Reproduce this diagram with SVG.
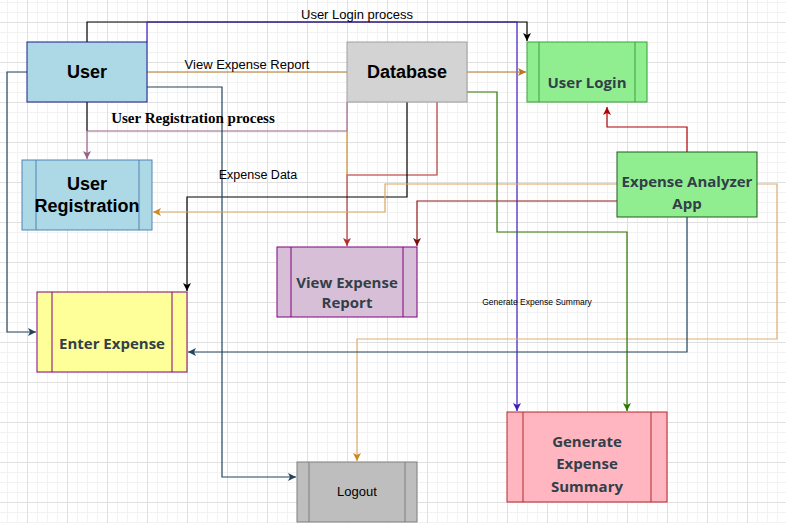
<svg xmlns="http://www.w3.org/2000/svg" width="786" height="523" viewBox="0 0 786 523">
<defs>
<pattern id="grid" x="27" y="22" width="40" height="40" patternUnits="userSpaceOnUse">
<path d="M10.5,0V40M20.5,0V40M30.5,0V40M0,10.5H40M0,20.5H40M0,30.5H40" stroke="#f2f2f2" stroke-width="1" fill="none"/>
<path d="M0.5,0V40M0,0.5H40" stroke="#e0e0e0" stroke-width="1" fill="none"/>
</pattern>
<marker id="a-black" viewBox="0 0 10 10" refX="10" refY="5" markerWidth="8" markerHeight="8" markerUnits="userSpaceOnUse" orient="auto"><path d="M0,0L10,5L0,10L2.5,5Z" fill="#000"/></marker>
<marker id="a-indigo" viewBox="0 0 10 10" refX="10" refY="5" markerWidth="8" markerHeight="8" markerUnits="userSpaceOnUse" orient="auto"><path d="M0,0L10,5L0,10L2.5,5Z" fill="#3F1BC0"/></marker>
<marker id="a-orange" viewBox="0 0 10 10" refX="10" refY="5" markerWidth="8" markerHeight="8" markerUnits="userSpaceOnUse" orient="auto"><path d="M0,0L10,5L0,10L2.5,5Z" fill="#B8741E"/></marker>
<marker id="a-mauve" viewBox="0 0 10 10" refX="10" refY="5" markerWidth="8" markerHeight="8" markerUnits="userSpaceOnUse" orient="auto"><path d="M0,0L10,5L0,10L2.5,5Z" fill="#9A6087"/></marker>
<marker id="a-red" viewBox="0 0 10 10" refX="10" refY="5" markerWidth="8" markerHeight="8" markerUnits="userSpaceOnUse" orient="auto"><path d="M0,0L10,5L0,10L2.5,5Z" fill="#B03030"/></marker>
<marker id="a-slate" viewBox="0 0 10 10" refX="10" refY="5" markerWidth="8" markerHeight="8" markerUnits="userSpaceOnUse" orient="auto"><path d="M0,0L10,5L0,10L2.5,5Z" fill="#23445D"/></marker>
<marker id="a-tan" viewBox="0 0 10 10" refX="10" refY="5" markerWidth="8" markerHeight="8" markerUnits="userSpaceOnUse" orient="auto"><path d="M0,0L10,5L0,10L2.5,5Z" fill="#C98A1F"/></marker>
<marker id="a-dred" viewBox="0 0 10 10" refX="10" refY="5" markerWidth="8" markerHeight="8" markerUnits="userSpaceOnUse" orient="auto"><path d="M0,0L10,5L0,10L2.5,5Z" fill="#7A0E0E"/></marker>
<marker id="a-bred" viewBox="0 0 10 10" refX="10" refY="5" markerWidth="8" markerHeight="8" markerUnits="userSpaceOnUse" orient="auto"><path d="M0,0L10,5L0,10L2.5,5Z" fill="#B20000"/></marker>
<marker id="a-green" viewBox="0 0 10 10" refX="10" refY="5" markerWidth="8" markerHeight="8" markerUnits="userSpaceOnUse" orient="auto"><path d="M0,0L10,5L0,10L2.5,5Z" fill="#2D7600"/></marker>
</defs>
<style>
.c{fill:none;stroke-width:1.2}
.lbl{font-family:"Liberation Sans",Arial,sans-serif;fill:#000}
.nt{font-family:"Liberation Sans",Arial,sans-serif;font-weight:bold;font-size:18px;fill:#000;text-anchor:middle}
.pt{font-family:"Open Sans","Noto Sans",sans-serif;font-weight:bold;font-size:15px;fill:#333F48;text-anchor:middle}
</style>
<rect width="786" height="523" fill="#fff"/>
<rect width="786" height="523" fill="url(#grid)"/>

<g id="connectors">
<path class="c" d="M87,42V22H527V41" stroke="#000" marker-end="url(#a-black)"/>
<path class="c" d="M147,42V22H517V411" stroke="#3F1BC0" marker-end="url(#a-indigo)"/>
<path class="c" d="M147,72H526" stroke="#B8741E" marker-end="url(#a-orange)"/>
<path class="c" d="M87,102V131" stroke="#000"/>
<path class="c" d="M347,102V131H87V159" stroke="#9A6087" marker-end="url(#a-mauve)"/>
<path class="c" d="M347,131V175" stroke="#C8902A"/>
<path class="c" d="M437,102V175H347V246" stroke="#B03A3A" marker-end="url(#a-red)"/>
<path class="c" d="M437,175H347" stroke="#D48585"/>
<path class="c" d="M407,102V197H187V291" stroke="#000" marker-end="url(#a-black)"/>
<path class="c" d="M147,87H222V477H296" stroke="#23445D" marker-end="url(#a-slate)"/>
<path class="c" d="M27,72H7V332H36" stroke="#23445D" marker-end="url(#a-slate)"/>
<path class="c" d="M617,184H385V212H153" stroke="#DAA45C" stroke-width="2" marker-end="url(#a-tan)"/>
<path class="c" d="M757,184H777V339H357V461" stroke="#DCAE74" stroke-width="1.6" marker-end="url(#a-tan)"/>
<path class="c" d="M617,201H417V246" stroke="#8E1B1B" marker-end="url(#a-dred)"/>
<path class="c" d="M687,152V127H607V107" stroke="#B20000" marker-end="url(#a-bred)"/>
<path class="c" d="M467,92H497V232H627V411" stroke="#2D7600" marker-end="url(#a-green)"/>
<path class="c" d="M687,217V352H188" stroke="#23445D" marker-end="url(#a-slate)"/>
<text class="lbl" x="357" y="19" font-size="13" text-anchor="middle">User Login process</text>
<text class="lbl" x="247" y="69" font-size="13" text-anchor="middle">View Expense Report</text>
<text x="193" y="123" font-family="'Liberation Serif','Times New Roman',serif" font-weight="bold" font-size="15" text-anchor="middle" fill="#000">User Registration process</text>
<text class="lbl" x="258" y="179" font-size="12.5" text-anchor="middle">Expense Data</text>
<text class="lbl" x="537" y="305" font-size="8.5" text-anchor="middle">Generate Expense Summary</text>
</g>

<g id="user">
<rect x="27" y="42" width="120" height="60" fill="#ADD8E6" stroke="#1B1B8C"/>
<text class="nt" x="87" y="78">User</text>
</g>
<g id="user-registration">
<rect x="22" y="160" width="130" height="70" fill="#ADD8E6" stroke="#4F83B4"/>
<path d="M36,160V230M139,160V230" stroke="#4F83B4" fill="none"/>
<text class="nt" x="87" y="190">User</text>
<text class="nt" x="87" y="212">Registration</text>
</g>
<g id="database">
<rect x="347" y="42" width="120" height="60" fill="#D3D3D3" stroke="#A0A0A0"/>
<text class="nt" x="407" y="78">Database</text>
</g>
<g id="user-login">
<rect x="527" y="42" width="120" height="60" fill="#90EE90" stroke="#36A336"/>
<path d="M539,42V102M635,42V102" stroke="#36A336" fill="none"/>
<text class="pt" x="587" y="88">User Login</text>
</g>
<g id="expense-analyzer-app">
<rect x="617" y="152" width="140" height="65" fill="#90EE90" stroke="#1E5A1E"/>
<text class="pt" x="687" y="187">Expense Analyzer</text>
<text class="pt" x="687" y="209">App</text>
</g>
<g id="view-expense-report">
<rect x="277" y="247" width="140" height="70" fill="#D8BFD8" stroke="#800080"/>
<path d="M291,247V317M403,247V317" stroke="#800080" fill="none"/>
<text class="pt" x="347" y="288">View Expense</text>
<text class="pt" x="347" y="308">Report</text>
</g>
<g id="enter-expense">
<rect x="37" y="292" width="150" height="80" fill="#FFFF99" stroke="#800080"/>
<path d="M52,292V372M172,292V372" stroke="#800080" fill="none"/>
<text class="pt" x="112" y="349">Enter Expense</text>
</g>
<g id="logout">
<rect x="297" y="462" width="120" height="60" fill="#BEBEBE" stroke="#7F7F7F"/>
<path d="M309,462V522M405,462V522" stroke="#7F7F7F" fill="none"/>
<text x="357" y="496" font-family="'Liberation Sans',Arial,sans-serif" font-size="13" text-anchor="middle" fill="#000">Logout</text>
</g>
<g id="generate-expense-summary">
<rect x="507" y="412" width="160" height="90" fill="#FFB6C1" stroke="#B5262B"/>
<path d="M523,412V502M651,412V502" stroke="#B5262B" fill="none"/>
<text class="pt" x="587" y="447">Generate</text>
<text class="pt" x="587" y="469">Expense</text>
<text class="pt" x="587" y="492">Summary</text>
</g>
</svg>
